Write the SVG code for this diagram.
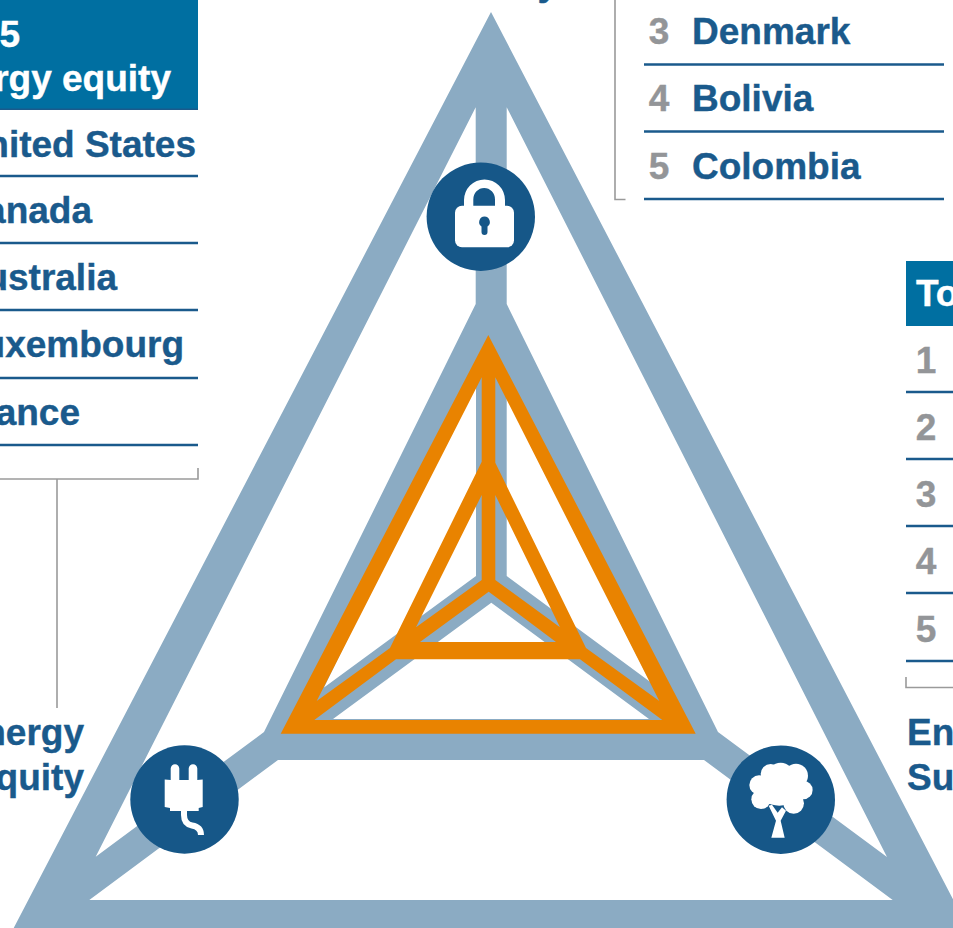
<svg xmlns="http://www.w3.org/2000/svg" width="953" height="928" viewBox="0 0 953 928">
<style>
text{font-family:"Liberation Sans",Arial,sans-serif;font-weight:700;font-size:37px;fill:#1a5a8c;stroke:#1a5a8c;stroke-width:.4}
.e{text-anchor:end}
.n{fill:#939598;stroke:#939598;text-anchor:middle}
.h{fill:#fff;stroke:#fff}
.r{stroke:#1a5a8c;stroke-width:2.5;fill:none}
.b{stroke:#9a9a9a;stroke-width:1.6;fill:none}
.c{fill:#165788}
.w{fill:#fff}
</style>
<rect width="953" height="928" fill="#fff"/>
<g id="triangles">
<path fill="#8babc3" fill-rule="evenodd" d="M491,12L968,928H13.7Z M475.7,107.3V304L264,732L95.7,856.7Z M506.7,107.3V304L718,732L887,857Z M89.3,900L278,760H704L892.7,900Z M476,376V576L324,687.5Z M506.7,396.7V576L650,681.7Z M491.3,602.7L649,719H333Z"/>
<path fill="#e98300" fill-rule="evenodd" d="M488.3,335L695.7,733.7H280.7Z M481.7,377.3V461.7L390,648L316.7,701Z M495.3,377.3V462.7L586,648L659.3,701Z M396,659.3H580L662.3,720H314.3Z M481.7,495V580L416,627.3Z M495.3,495V580L560,627.3Z M488.7,591.7L556,642H420Z"/>
</g>
<g id="connectors">
<path class="b" d="M615,0V199.5H625.5"/>
<path class="b" d="M0,479H198V468"/>
<path class="b" d="M57,479V708"/>
<path class="b" d="M906,677V687.5H953"/>
</g>
<g id="security-label"><text x="558" y="-5" class="e">y</text></g>
<g id="security-table">
<text x="659" y="44" class="n">3</text><text x="692" y="44">Denmark</text><path class="r" d="M644,64.500H944"/>
<text x="659" y="111" class="n">4</text><text x="692" y="111">Bolivia</text><path class="r" d="M644,131.500H944"/>
<text x="659" y="179" class="n">5</text><text x="692" y="179">Colombia</text><path class="r" d="M644,199H944"/>
</g>
<g id="equity-table">
<rect x="-2" y="-2" width="200" height="112" fill="#006fa1"/>
<path d="M0,109.300H198" stroke="#1a5a8c" stroke-width="1.500"/>
<text x="20" y="47" class="h e">5</text>
<text x="171" y="91" class="h e">rgy equity</text>
<text x="196" y="156.500" class="e">nited States</text><path class="r" d="M0,176H198"/>
<text x="92" y="223" class="e">anada</text><path class="r" d="M0,243H198"/>
<text x="117" y="290" class="e">ustralia</text><path class="r" d="M0,310H198"/>
<text x="184" y="357" class="e">uxembourg</text><path class="r" d="M0,378H198"/>
<text x="80" y="425" class="e">ance</text><path class="r" d="M0,445H198"/>
</g>
<g id="equity-label">
<text x="84" y="745" class="e">nergy</text>
<text x="84" y="790" class="e">quity</text>
</g>
<g id="sustainability-table">
<rect x="906" y="261" width="47" height="65" fill="#006fa1"/>
<text x="916" y="306" class="h">To</text>
<text x="926" y="373" class="n">1</text><path class="r" d="M906,392H953"/>
<text x="926" y="440" class="n">2</text><path class="r" d="M906,459H953"/>
<text x="926" y="507" class="n">3</text><path class="r" d="M906,526H953"/>
<text x="926" y="574" class="n">4</text><path class="r" d="M906,593H953"/>
<text x="926" y="642" class="n">5</text><path class="r" d="M906,661H953"/>
</g>
<g id="sustainability-label">
<text x="907" y="745">En</text>
<text x="907" y="790">Su</text>
</g>
<g id="lock-icon">
<circle class="c" cx="480.800" cy="216.700" r="54.200"/>
<rect class="w" x="455" y="205.700" width="59" height="41.600" rx="7"/>
<path class="w" fill-rule="evenodd" d="M464,208V200A20.500,20.500,0,0,1,505,200V208Z M473.300,206H495V199.500A10.850,11.500,0,0,0,473.300,199.500Z"/>
<path class="c" d="M484.500,216.500A5.500,5.500,0,0,1,487.500,226.500V232A3,3,0,0,1,481.500,232V226.500A5.500,5.500,0,0,1,484.500,216.500Z"/>
</g>
<g id="plug-icon">
<circle class="c" cx="184.500" cy="799.500" r="54.200"/>
<path class="w" d="M170.700,780V768.500A4.300,4.300,0,0,1,179.300,768.500V780H188.700V768.500A4.300,4.300,0,0,1,197.300,768.500V780L202.700,779.500V807L198.700,808V811H170V808L164.700,807V779.500Z"/>
<path d="M184,810V815Q184,824 192,825.500Q201,827 201,835" fill="none" stroke="#fff" stroke-width="6"/>
</g>
<g id="tree-icon">
<circle class="c" cx="780.800" cy="799.700" r="54.200"/>
<g class="w" transform="translate(690,660) scale(.3333)">
<circle cx="272" cy="348" r="40"/><circle cx="242" cy="342" r="30"/><circle cx="318" cy="347" r="36"/>
<circle cx="207" cy="375" r="29"/><circle cx="213" cy="418" r="29"/><circle cx="340" cy="390" r="28"/>
<circle cx="311" cy="430" r="31"/><ellipse cx="268" cy="395" rx="62" ry="42"/>
<path d="M236,437L246,434L263,458L276,442L288,452L272,482L284,533H244L258,482Z"/>
</g>
</g>
</svg>
